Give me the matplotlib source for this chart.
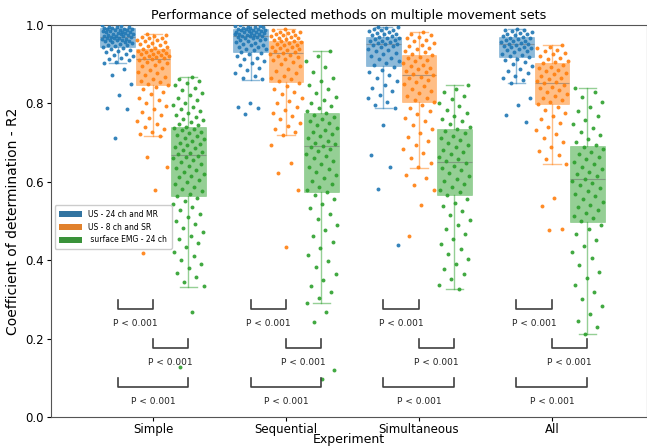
import numpy as np
import matplotlib
matplotlib.use("Agg")
import matplotlib.pyplot as plt
from matplotlib.patches import Patch

# experiments and methods
experiments = ["Simple", "Sequential", "Simultaneous", "All"]
methods = ["US - 24 ch and MR", "US - 8 ch and SR", " surface EMG - 24 ch"]

# box statistics: [Simple, Sequential, Simultaneous, All]
q1 = [[0.944, 0.931, 0.895, 0.918],
      [0.847, 0.855, 0.804, 0.798],
      [0.564, 0.575, 0.566, 0.497]]
med = [[0.969, 0.972, 0.951, 0.951],
       [0.913, 0.928, 0.872, 0.852],
       [0.668, 0.692, 0.651, 0.607]]
q3 = [[0.992, 0.990, 0.970, 0.970],
      [0.939, 0.960, 0.923, 0.903],
      [0.740, 0.776, 0.735, 0.692]]
whislo = [[0.903, 0.860, 0.788, 0.852],
          [0.717, 0.719, 0.635, 0.645],
          [0.332, 0.291, 0.326, 0.212]]
whishi = [[0.999, 0.999, 0.996, 0.990],
          [0.977, 0.990, 0.982, 0.949],
          [0.867, 0.934, 0.847, 0.840]]

# individual R2 values (estimated from the strip points)
simple_us24 = [0.999, 0.997, 0.996, 0.994, 0.995, 0.993, 0.991, 0.992, 0.990, 0.988, 0.989, 0.986, 0.987, 0.985,
               0.983, 0.984, 0.982, 0.980, 0.981, 0.979, 0.977, 0.978, 0.976, 0.974, 0.975, 0.973, 0.971, 0.972,
               0.970, 0.969, 0.968, 0.967, 0.965, 0.966, 0.964, 0.962, 0.963, 0.960, 0.961, 0.958, 0.956, 0.957,
               0.954, 0.952, 0.950, 0.948, 0.946, 0.944, 0.941, 0.939, 0.936, 0.934, 0.931, 0.927, 0.924, 0.921,
               0.917, 0.913, 0.910, 0.906, 0.903, 0.888, 0.872, 0.849, 0.821, 0.789, 0.786, 0.711]
simple_us8 = [0.977, 0.975, 0.972, 0.970, 0.968, 0.966, 0.963, 0.961, 0.958, 0.956, 0.953, 0.951, 0.949, 0.946,
              0.944, 0.941, 0.939, 0.937, 0.935, 0.934, 0.932, 0.930, 0.929, 0.927, 0.925, 0.924, 0.922, 0.920,
              0.918, 0.916, 0.915, 0.913, 0.911, 0.909, 0.906, 0.903, 0.899, 0.895, 0.891, 0.886, 0.881, 0.877,
              0.872, 0.868, 0.863, 0.858, 0.854, 0.850, 0.847, 0.843, 0.837, 0.829, 0.823, 0.815, 0.808, 0.801,
              0.793, 0.786, 0.779, 0.771, 0.763, 0.756, 0.748, 0.741, 0.734, 0.726, 0.721, 0.717, 0.663, 0.639,
              0.579, 0.418]
simple_emg = [0.867, 0.862, 0.858, 0.851, 0.846, 0.840, 0.833, 0.827, 0.821, 0.815, 0.808, 0.802, 0.797, 0.791,
              0.786, 0.781, 0.776, 0.771, 0.766, 0.761, 0.757, 0.752, 0.748, 0.744, 0.741, 0.738, 0.735, 0.731,
              0.727, 0.724, 0.720, 0.716, 0.712, 0.708, 0.704, 0.700, 0.697, 0.693, 0.689, 0.685, 0.681, 0.677,
              0.673, 0.670, 0.667, 0.664, 0.660, 0.655, 0.651, 0.646, 0.641, 0.636, 0.631, 0.626, 0.621, 0.616,
              0.611, 0.605, 0.600, 0.594, 0.588, 0.582, 0.576, 0.570, 0.565, 0.558, 0.551, 0.543, 0.536, 0.527,
              0.519, 0.510, 0.501, 0.492, 0.482, 0.473, 0.463, 0.454, 0.444, 0.433, 0.422, 0.411, 0.401, 0.390,
              0.379, 0.367, 0.356, 0.345, 0.335, 0.269, 0.128]
seq_us24 = [0.999, 0.998, 0.996, 0.997, 0.995, 0.993, 0.994, 0.992, 0.990, 0.991, 0.989, 0.987, 0.988, 0.986,
            0.984, 0.985, 0.983, 0.981, 0.982, 0.979, 0.980, 0.977, 0.978, 0.975, 0.976, 0.974, 0.972, 0.973,
            0.971, 0.969, 0.970, 0.967, 0.965, 0.966, 0.963, 0.961, 0.959, 0.957, 0.955, 0.952, 0.950, 0.948,
            0.945, 0.943, 0.940, 0.938, 0.935, 0.932, 0.929, 0.925, 0.921, 0.917, 0.913, 0.908, 0.903, 0.897,
            0.891, 0.884, 0.877, 0.871, 0.866, 0.861, 0.801, 0.792, 0.787, 0.772]
seq_us8 = [0.990, 0.987, 0.985, 0.983, 0.981, 0.979, 0.977, 0.975, 0.974, 0.972, 0.970, 0.968, 0.966, 0.964,
           0.962, 0.960, 0.958, 0.956, 0.954, 0.952, 0.950, 0.948, 0.945, 0.943, 0.941, 0.938, 0.936, 0.933,
           0.931, 0.929, 0.927, 0.924, 0.921, 0.918, 0.914, 0.910, 0.905, 0.900, 0.895, 0.889, 0.883, 0.877,
           0.871, 0.866, 0.861, 0.856, 0.851, 0.845, 0.838, 0.830, 0.823, 0.815, 0.807, 0.800, 0.792, 0.784,
           0.776, 0.768, 0.759, 0.751, 0.742, 0.734, 0.726, 0.720, 0.693, 0.649, 0.622, 0.578, 0.434]
seq_emg = [0.934, 0.921, 0.908, 0.894, 0.880, 0.866, 0.856, 0.846, 0.836, 0.826, 0.817, 0.809, 0.801, 0.794,
           0.787, 0.781, 0.776, 0.771, 0.766, 0.760, 0.755, 0.749, 0.744, 0.738, 0.733, 0.727, 0.722, 0.716,
           0.711, 0.705, 0.700, 0.696, 0.692, 0.688, 0.683, 0.678, 0.672, 0.666, 0.660, 0.653, 0.646, 0.639,
           0.632, 0.624, 0.617, 0.609, 0.601, 0.594, 0.587, 0.580, 0.575, 0.566, 0.556, 0.544, 0.532, 0.519,
           0.505, 0.491, 0.476, 0.461, 0.446, 0.430, 0.414, 0.398, 0.382, 0.366, 0.350, 0.334, 0.318, 0.303,
           0.292, 0.269, 0.243, 0.120, 0.097]
simul_us24 = [0.996, 0.994, 0.992, 0.990, 0.988, 0.986, 0.984, 0.982, 0.980, 0.978, 0.976, 0.974, 0.972, 0.970,
              0.968, 0.966, 0.964, 0.962, 0.960, 0.958, 0.956, 0.954, 0.952, 0.951, 0.949, 0.946, 0.943, 0.940,
              0.937, 0.933, 0.929, 0.925, 0.921, 0.917, 0.912, 0.907, 0.902, 0.897, 0.892, 0.886, 0.879, 0.872,
              0.864, 0.856, 0.848, 0.840, 0.831, 0.822, 0.813, 0.804, 0.796, 0.789, 0.745, 0.668, 0.639, 0.582,
              0.439]
simul_us8 = [0.982, 0.978, 0.974, 0.970, 0.966, 0.962, 0.958, 0.954, 0.950, 0.946, 0.942, 0.938, 0.934, 0.930,
             0.926, 0.923, 0.919, 0.915, 0.911, 0.907, 0.903, 0.899, 0.895, 0.891, 0.887, 0.883, 0.879, 0.875,
             0.872, 0.868, 0.864, 0.859, 0.854, 0.849, 0.844, 0.838, 0.832, 0.826, 0.820, 0.814, 0.809, 0.804,
             0.797, 0.789, 0.781, 0.772, 0.763, 0.754, 0.745, 0.735, 0.725, 0.715, 0.705, 0.695, 0.684, 0.673,
             0.661, 0.649, 0.637, 0.617, 0.609, 0.592, 0.579, 0.541, 0.462]
simul_emg = [0.847, 0.838, 0.829, 0.820, 0.811, 0.802, 0.793, 0.784, 0.776, 0.768, 0.761, 0.754, 0.747, 0.740,
             0.735, 0.730, 0.724, 0.718, 0.712, 0.706, 0.700, 0.694, 0.688, 0.682, 0.676, 0.670, 0.664, 0.658,
             0.652, 0.647, 0.641, 0.635, 0.629, 0.622, 0.615, 0.608, 0.601, 0.594, 0.587, 0.580, 0.573, 0.566,
             0.557, 0.547, 0.537, 0.526, 0.515, 0.503, 0.491, 0.479, 0.467, 0.455, 0.442, 0.429, 0.416, 0.403,
             0.390, 0.377, 0.364, 0.351, 0.338, 0.327]
all_us24 = [0.990, 0.988, 0.986, 0.984, 0.982, 0.980, 0.978, 0.976, 0.974, 0.972, 0.970, 0.968, 0.966, 0.964,
            0.962, 0.960, 0.958, 0.956, 0.954, 0.952, 0.951, 0.949, 0.947, 0.945, 0.943, 0.941, 0.939, 0.936,
            0.933, 0.930, 0.927, 0.924, 0.921, 0.918, 0.914, 0.910, 0.905, 0.900, 0.895, 0.889, 0.883, 0.877,
            0.871, 0.865, 0.859, 0.853, 0.813, 0.796, 0.770, 0.753]
all_us8 = [0.949, 0.945, 0.941, 0.937, 0.933, 0.929, 0.925, 0.921, 0.917, 0.913, 0.909, 0.905, 0.902, 0.898,
           0.894, 0.890, 0.886, 0.882, 0.878, 0.874, 0.870, 0.866, 0.862, 0.858, 0.854, 0.851, 0.847, 0.843,
           0.839, 0.834, 0.829, 0.824, 0.819, 0.814, 0.809, 0.804, 0.799, 0.792, 0.784, 0.776, 0.768, 0.759,
           0.750, 0.741, 0.731, 0.721, 0.711, 0.701, 0.690, 0.679, 0.668, 0.657, 0.646, 0.558, 0.537, 0.480,
           0.477]
all_emg = [0.840, 0.828, 0.816, 0.804, 0.792, 0.780, 0.769, 0.758, 0.748, 0.738, 0.728, 0.719, 0.710, 0.702,
           0.695, 0.689, 0.683, 0.677, 0.670, 0.664, 0.658, 0.651, 0.645, 0.639, 0.632, 0.626, 0.620, 0.614,
           0.608, 0.603, 0.597, 0.591, 0.584, 0.577, 0.570, 0.563, 0.556, 0.549, 0.542, 0.535, 0.528, 0.521,
           0.514, 0.507, 0.499, 0.490, 0.479, 0.466, 0.452, 0.437, 0.421, 0.405, 0.388, 0.371, 0.354, 0.336,
           0.318, 0.300, 0.282, 0.264, 0.246, 0.229, 0.213]

points = [[simple_us24, seq_us24, simul_us24, all_us24],
          [simple_us8, seq_us8, simul_us8, all_us8],
          [simple_emg, seq_emg, simul_emg, all_emg]]

# significance annotations (method pair, label)
pairs = [(0, 1), (1, 2), (0, 2)]
p_labels = ["P < 0.001", "P < 0.001", "P < 0.001"]

colors = ["#1f77b4", "#ff7f0e", "#2ca02c"]
legend_colors = ["#3274a1", "#e1812c", "#3a923a"]

fig = plt.figure(figsize=(6.47, 4.47), dpi=100)
ax = fig.add_axes([51 / 647, 30 / 447, 1 - 51 / 647, 392 / 447])

w = 0.8 / 3
offsets = [-w, 0, w]
x = np.arange(len(experiments))

for m in range(3):
    c = colors[m]
    stats = []
    for e in range(4):
        stats.append(dict(q1=q1[m][e], med=med[m][e], q3=q3[m][e],
                          whislo=whislo[m][e], whishi=whishi[m][e]))
    ax.bxp(stats, positions=x + offsets[m], widths=w * 0.98, patch_artist=True,
           showfliers=False, capwidths=w * 0.5,
           boxprops=dict(facecolor=c, edgecolor=c, alpha=0.5, linewidth=0.4),
           whiskerprops=dict(color=c, alpha=0.5, linewidth=1),
           capprops=dict(color=c, alpha=0.5, linewidth=1),
           medianprops=dict(color="#6b6b6b", alpha=0.5, linewidth=0.8), zorder=2)
    for e in range(4):
        vals = np.array(points[m][e])
        k = np.arange(len(vals))
        jit = ((k * 0.6180339887 + 0.3 * m + 0.17 * e) % 1.0 - 0.5) * 0.24
        ax.scatter(x[e] + offsets[m] + jit, vals, s=8, color=c, alpha=0.9,
                   linewidths=0, zorder=3)

# significance brackets
levels = [0.276, 0.176, 0.077]
for e in range(4):
    for (a, b), lab, lev in zip(pairs, p_labels, levels):
        x1 = x[e] + offsets[a]
        x2 = x[e] + offsets[b]
        ax.plot([x1, x1, x2, x2], [lev + 0.022, lev, lev, lev + 0.022],
                color="#404040", lw=1.2, zorder=4)
        ax.text((x1 + x2) / 2, lev - 0.037, lab, ha="center", va="center",
                fontsize=6.5, color="#222222")

ax.set_xlim(-0.767, 3.715)
ax.set_ylim(0, 1.0)
ax.set_xticks(x)
ax.set_xticklabels(experiments, fontsize=8.5)
ax.set_yticks([0.0, 0.2, 0.4, 0.6, 0.8, 1.0])
ax.set_yticklabels(["0.0", "0.2", "0.4", "0.6", "0.8", "1.0"], fontsize=8.5)
ax.tick_params(length=3, width=0.8, pad=2)
ax.tick_params(axis="x", pad=1)
for sp in ax.spines.values():
    sp.set_color("#555555")
ax.set_xlabel("Experiment", fontsize=9, va="center")
ax.xaxis.set_label_coords(0.5, -(440 - 417) / 392)
ax.set_ylabel("Coefficient of determination - R2", fontsize=10, labelpad=4)
ax.set_title("Performance of selected methods on multiple movement sets", fontsize=9.2, pad=4)

handles = [Patch(facecolor=legend_colors[i], edgecolor="none") for i in range(3)]
ax.legend(handles, methods, loc="upper left", bbox_to_anchor=(0.0, 0.55),
          fontsize=5.5, handlelength=3, handleheight=0.9, framealpha=1,
          borderpad=0.6, labelspacing=0.5)

fig.savefig("out.png", dpi=100)
